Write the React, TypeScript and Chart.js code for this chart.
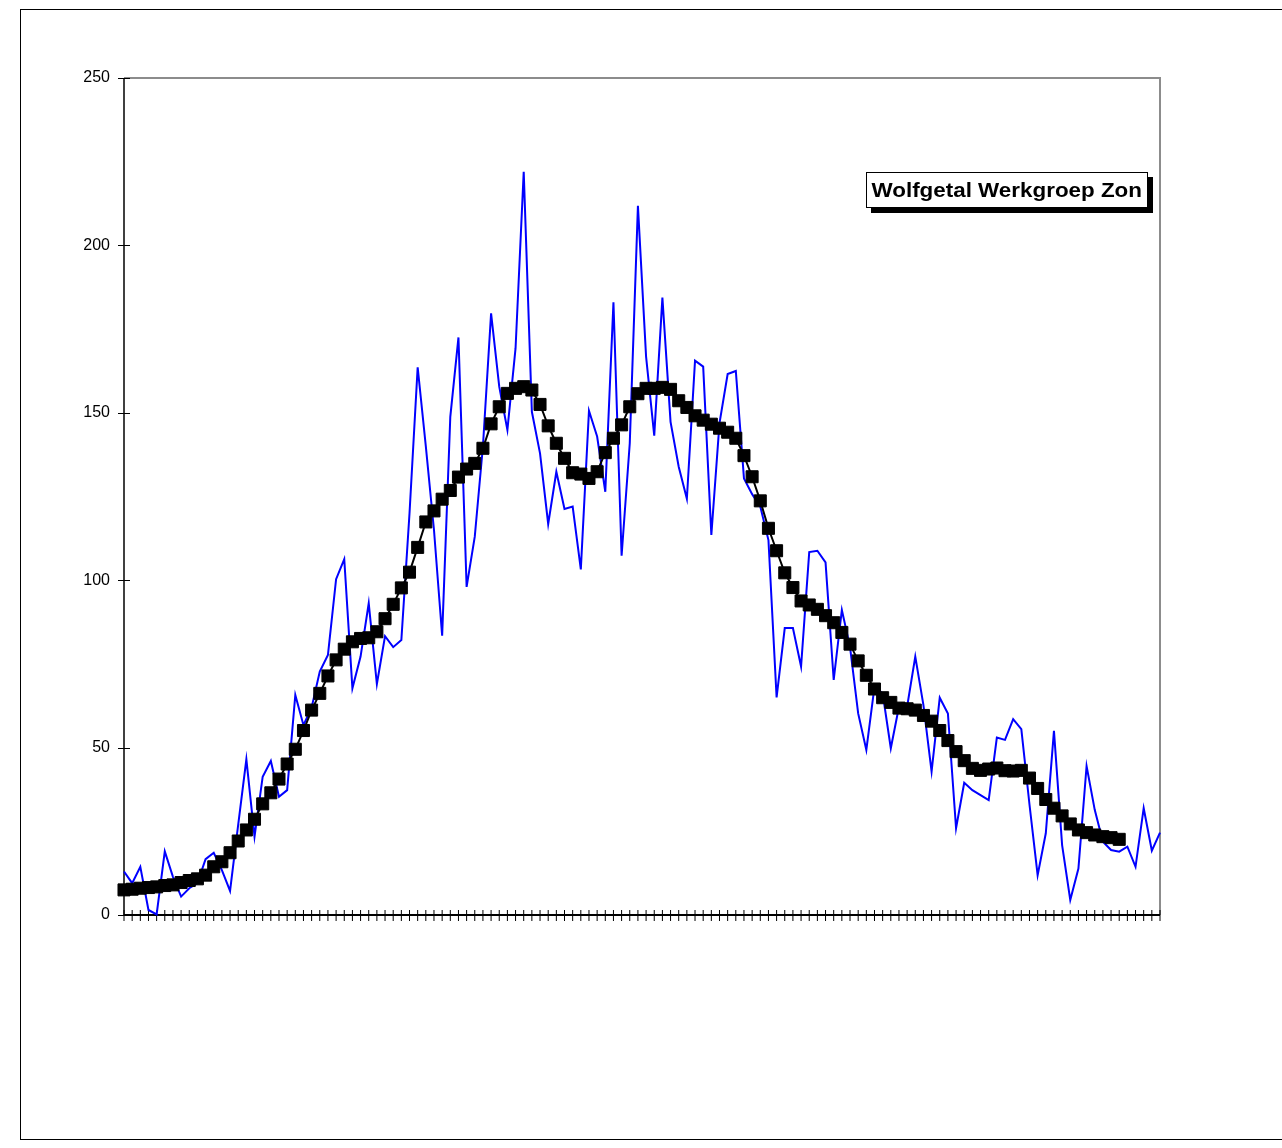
import React, { useEffect, useRef } from 'react';
import { Chart, registerables } from 'chart.js';

Chart.register(...registerables);

// Monthly Wolf numbers (sunspot relative numbers)
const wolfNumbers: number[] = [
  13, 9.5, 14.4, 1.5, 0.2, 19, 11.4, 5.5, 8, 9.5,
  16.7, 18.6, 13.4, 7.2, 27, 46.5, 23.4, 41.3, 46, 35.3,
  37.3, 65.7, 56.7, 62, 72.7, 77.7, 100.3, 106.3, 67.7, 77.2,
  93.1, 69, 83.3, 80, 82.1, 120, 163.6, 140, 115, 83.4,
  148.8, 172.5, 98, 113, 140, 179.7, 157.8, 144.9, 169.3, 222,
  150.3, 137.9, 116.8, 132.4, 121.3, 122, 103.2, 150.6, 142.9, 126.4,
  183, 107.3, 140.9, 211.8, 166.8, 143.2, 184.4, 147.3, 133.9, 124.3,
  165.6, 163.8, 113.5, 146.9, 161.6, 162.5, 130.4, 125.7, 122, 112,
  65, 85.7, 85.7, 74.2, 108.4, 108.8, 105.3, 70.2, 91.1, 80.1,
  60.2, 49.3, 68.2, 66.2, 49.8, 62.2, 62.2, 77.2, 62.7, 42.8,
  64.9, 60.2, 25.9, 39.5, 37.3, 35.8, 34.3, 53, 52.3, 58.5,
  55.5, 33, 11.9, 24.4, 55, 20.9, 4.5, 13.9, 44.5, 31.4,
  21.9, 19.4, 18.9, 20.4, 14.4, 31.9, 19.2, 24.6,
];

// Smoothed Wolf numbers
const smoothedNumbers: (number | null)[] = [
  7.5, 7.7, 8.0, 8.2, 8.4, 8.8, 9.0, 9.7, 10.3, 10.8,
  11.9, 14.4, 15.9, 18.6, 22.1, 25.4, 28.6, 33.2, 36.5, 40.6,
  45.1, 49.5, 55.1, 61.2, 66.2, 71.4, 76.2, 79.4, 81.6, 82.6,
  82.8, 84.6, 88.5, 92.8, 97.7, 102.4, 109.8, 117.4, 120.7, 124.2,
  126.8, 130.8, 133.2, 134.9, 139.4, 146.7, 151.8, 155.8, 157.3, 157.8,
  156.8, 152.5, 146.1, 140.9, 136.4, 132.1, 131.7, 130.4, 132.4, 138.1,
  142.4, 146.4, 151.8, 155.7, 157.3, 157.3, 157.6, 157, 153.6, 151.6,
  149.1, 147.8, 146.6, 145.4, 144.2, 142.4, 137.2, 130.9, 123.7, 115.5,
  108.8, 102.2, 97.8, 93.8, 92.6, 91.3, 89.4, 87.3, 84.4, 80.9,
  75.9, 71.6, 67.5, 64.9, 63.5, 61.8, 61.6, 61.2, 59.6, 57.9,
  55.1, 52.1, 48.8, 46.1, 43.8, 43.2, 43.6, 43.9, 43.1, 43,
  43.2, 40.9, 37.8, 34.5, 31.9, 29.6, 27.2, 25.4, 24.6, 23.9,
  23.4, 23.1, 22.6, null, null, null, null, null,
];

const categories: string[] = wolfNumbers.map((_, i) => String(i + 1));
const yTickValues: number[] = [0, 50, 100, 150, 200, 250];
const legendText = 'Wolfgetal Werkgroep Zon';

const excelAxes = {
  id: 'excelAxes',
  beforeDatasetsDraw(chart: any) {
    const { ctx, chartArea: a, scales } = chart;
    const xs = scales.x;
    const ys = scales.y;
    ctx.save();
    // plot area frame (top/right gray)
    ctx.strokeStyle = '#8c8c8c';
    ctx.lineWidth = 2;
    ctx.beginPath();
    ctx.moveTo(a.left, a.top);
    ctx.lineTo(a.right, a.top);
    ctx.lineTo(a.right, a.bottom);
    ctx.stroke();
    // y axis
    ctx.strokeStyle = '#000';
    ctx.lineWidth = 1.5;
    ctx.beginPath();
    ctx.moveTo(a.left, a.top);
    ctx.lineTo(a.left, a.bottom);
    ctx.stroke();
    ctx.lineWidth = 1;
    ctx.beginPath();
    for (const v of yTickValues) {
      const py = Math.round(ys.getPixelForValue(v)) + 0.5;
      ctx.moveTo(a.left - 6, py);
      ctx.lineTo(a.left + 6, py);
    }
    ctx.stroke();
    // x axis
    ctx.lineWidth = 2;
    ctx.beginPath();
    ctx.moveTo(a.left, a.bottom);
    ctx.lineTo(a.right, a.bottom);
    ctx.stroke();
    ctx.lineWidth = 1;
    ctx.beginPath();
    for (let i = 0; i < categories.length; i++) {
      const px = xs.getPixelForValue(i);
      ctx.moveTo(px, a.bottom - 5);
      ctx.lineTo(px, a.bottom + 6);
    }
    ctx.stroke();
    ctx.restore();
  },
};

export default function App() {
  const canvasRef = useRef<HTMLCanvasElement | null>(null);

  useEffect(() => {
    const canvas = canvasRef.current;
    if (!canvas) return;
    const chart = new Chart(canvas, {
      type: 'line',
      data: {
        labels: categories,
        datasets: [
          {
            label: 'Smoothed',
            data: smoothedNumbers,
            borderColor: '#000000',
            backgroundColor: '#000000',
            borderWidth: 2,
            pointStyle: 'rect',
            pointRadius: 8.5,
            pointBorderWidth: 1,
            pointBackgroundColor: '#000000',
            pointBorderColor: '#000000',
            tension: 0,
            clip: false,
            order: 0,
          },
          {
            label: legendText,
            data: wolfNumbers,
            borderColor: '#0000ff',
            backgroundColor: '#0000ff',
            borderWidth: 2,
            pointRadius: 0,
            tension: 0,
            clip: false,
            order: 1,
          },
        ],
      },
      options: {
        animation: false,
        responsive: false,
        devicePixelRatio: 1,
        layout: { padding: { left: 64, right: 122, top: 78, bottom: 233 } },
        plugins: {
          legend: { display: false },
          tooltip: { enabled: false },
          title: { display: false },
        },
        scales: {
          x: {
            type: 'category',
            offset: false,
            grid: { display: false },
            border: { display: false },
            ticks: { display: false, autoSkip: false },
            afterFit: (s: any) => { s.height = 0; },
          },
          y: {
            min: 0,
            max: 250,
            grid: { display: false, drawTicks: true, tickLength: 6 },
            border: { display: false },
            ticks: {
              stepSize: 50,
              padding: 8,
              color: '#000',
              font: { family: 'Arial, "Liberation Sans", sans-serif', size: 16 },
            },
            afterFit: (s: any) => { s.width = 60; },
          },
        },
      },
      plugins: [excelAxes],
    });
    return () => chart.destroy();
  }, []);

  return (
    <div style={{ position: 'absolute', left: 0, top: 0, width: 1282, height: 1148, overflow: 'hidden', background: '#fff' }}>
      <div
        style={{
          position: 'absolute',
          left: 20,
          top: 9,
          width: 1262,
          height: 1131,
          boxSizing: 'border-box',
          borderLeft: '1px solid #000',
          borderTop: '1px solid #000',
          borderBottom: '1px solid #000',
        }}
      />
      <canvas
        ref={canvasRef}
        width={1282}
        height={1148}
        style={{ position: 'absolute', left: 0, top: 0, width: 1282, height: 1148 }}
      />
      <div
        style={{
          position: 'absolute',
          left: 866,
          top: 172,
          width: 282,
          height: 36,
          boxSizing: 'border-box',
          border: '1px solid #000',
          background: '#fff',
          boxShadow: '5px 5px 0 #000',
          fontFamily: 'Arial, "Liberation Sans", sans-serif',
          fontWeight: 'bold',
          fontSize: 20,
          lineHeight: '34px',
          textAlign: 'center',
          whiteSpace: 'nowrap',
          color: '#000',
        }}
      >
        <span style={{ display: 'inline-block', transform: 'scaleX(1.12)', transformOrigin: 'center' }}>{legendText}</span>
      </div>
    </div>
  );
}
